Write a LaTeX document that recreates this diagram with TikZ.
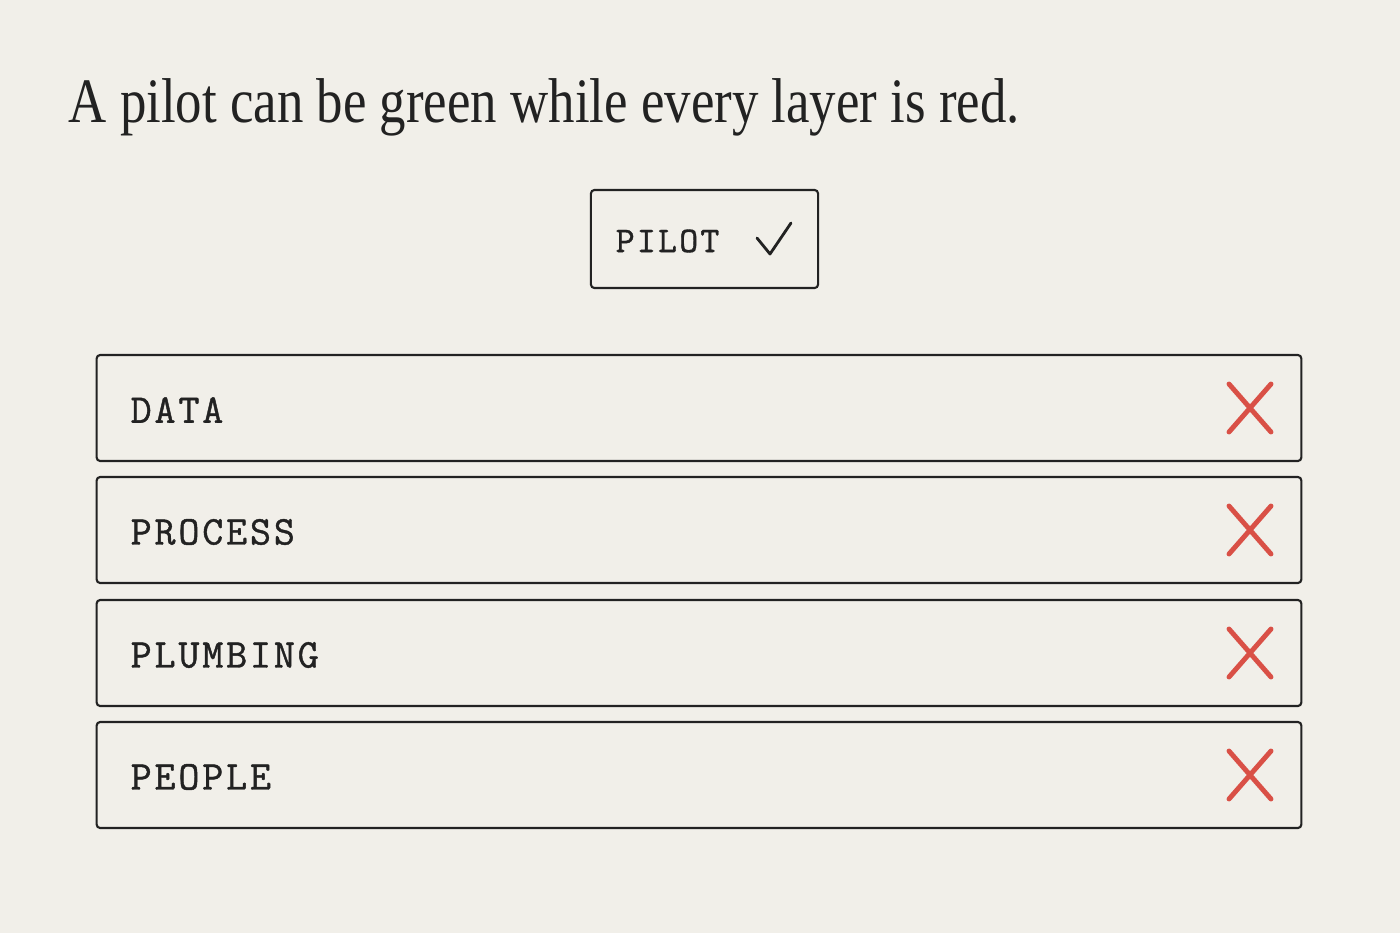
\documentclass[tikz,border=0pt]{standalone}
\usepackage{fontspec}
\setmainfont[FakeStretch=0.835]{Liberation Serif}
\newfontfamily\tagfont[LetterSpace=7, FakeBold=1]{Latin Modern Mono}
\newfontfamily\pilotfont[LetterSpace=6, FakeBold=1]{Latin Modern Mono}
\usetikzlibrary{positioning}

\definecolor{paper}{RGB}{241,239,233}
\definecolor{ink}{RGB}{34,34,34}
\definecolor{crossred}{RGB}{217,80,70}

\begin{document}
\begin{tikzpicture}[
  x=0.01cm, y=-0.01cm,
  layer/.style={draw=ink, line width=0.6pt, rounded corners=1pt,
    minimum width=12.04cm, minimum height=1.06cm, inner sep=0pt},
  pilotbox/.style={draw=ink, line width=0.6pt, rounded corners=1pt,
    minimum width=2.27cm, minimum height=0.98cm, inner sep=0pt},
  tag/.style={font=\tagfont\fontsize{11.6}{14}\selectfont, text=ink,
    anchor=west, inner sep=0pt},
  pilottag/.style={font=\pilotfont\fontsize{10.3}{12}\selectfont, text=ink,
    anchor=west, inner sep=0pt},
  cross/.style={draw=crossred, line width=1.4pt, line cap=round},
  tick/.style={draw=ink, line width=0.8pt, line cap=round, line join=round}
]
  % page
  \fill[paper] (0,0) rectangle (1400,933);
  \useasboundingbox (0,0) rectangle (1400,933);

  % title
  \node[anchor=base west, inner sep=0pt, text=ink,
    font=\fontsize{18}{22}\selectfont] (title) at (68,122)
    {A pilot can be green while every layer is red.};

  % pilot
  \node[pilotbox] (pilot) at (704.5,239) {};
  \node[pilottag] (pilotname) at (615,241) {PILOT};
  \coordinate (tickA) at (757,238);
  \coordinate (tickB) at (770,254);
  \coordinate (tickC) at (791,223);
  \draw[tick] (tickA) -- (tickB) -- (tickC);

  % layers
  \foreach \name/\label/\y in {data/DATA/408, process/PROCESS/530,
      plumbing/PLUMBING/653, people/PEOPLE/775} {
    \node[layer] (\name) at (699,\y) {};
    \node[tag] (\name tag) at (130,\y+2) {\label};
    \coordinate (\name x) at (1250,\y);
    \draw[cross] ([shift={(-21,-24)}]\name x) -- ([shift={(21,24)}]\name x);
    \draw[cross] ([shift={(21,-24)}]\name x) -- ([shift={(-21,24)}]\name x);
  }
\end{tikzpicture}
\end{document}
